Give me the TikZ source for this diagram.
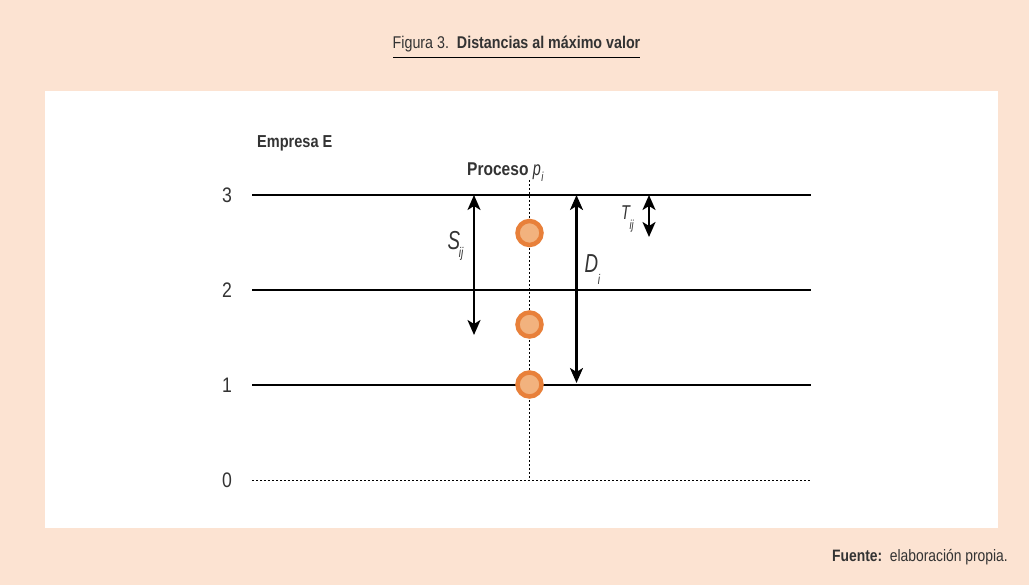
\documentclass[tikz,border=0pt]{standalone}
\usepackage{fontspec}
\setmainfont{Liberation Sans}[FakeStretch=0.84]
\usetikzlibrary{arrows.meta}
\definecolor{peach}{HTML}{FCE3D2}
\definecolor{txt}{HTML}{333333}
\definecolor{dotout}{HTML}{E8803A}
\definecolor{dotin}{HTML}{F2B27E}
\newcommand{\narrow}[1]{\scalebox{0.86}[1]{#1}}
\tikzset{
  lvl/.style={line width=1.6pt,black},
  lvlzero/.style={line width=0.9pt,black,dash pattern=on 2pt off 2pt},
  dist/.style={line width=2.4pt,black,{Stealth[length=15pt,width=13pt,inset=4pt]}-{Stealth[length=15pt,width=13pt,inset=4pt]}},
  num/.style={font=\fontsize{21}{23}\selectfont,text=txt,inner sep=0pt},
  lab/.style={font=\fontsize{26}{28}\selectfont\itshape,text=txt,inner sep=0pt,anchor=base west},
  pt/.style={circle,fill=dotin,draw=dotout,line width=4.5pt,minimum size=24pt,inner sep=0pt},
}
\begin{document}
\begin{tikzpicture}[x=1pt,y=-1pt]
\useasboundingbox (0,0) rectangle (1029,585);
\fill[peach] (0,0) rectangle (1029,585);
\fill[white] (45,91) rectangle (998,528);
% title
\node[text=txt,font=\fontsize{17}{19}\selectfont,inner sep=0pt,anchor=base] (title) at (516.5,49) {Figura 3.\ \ \textbf{Distancias al máximo valor}};
\draw[black,line width=0.8pt] (393,57) -- (640,57);
% levels
\coordinate (l3a) at (252,195); \coordinate (l3b) at (811,195);
\coordinate (l2a) at (252,290); \coordinate (l2b) at (811,290);
\coordinate (l1a) at (252,385); \coordinate (l1b) at (811,385);
\coordinate (l0a) at (252,480); \coordinate (l0b) at (811,480);
\draw[lvl] (l3a) -- (l3b);
\draw[lvl] (l2a) -- (l2b);
\draw[lvl] (l1a) -- (l1b);
\draw[lvlzero] (l0a) -- (l0b);
\node[num] (n3) at (227,195) {3};
\node[num] (n2) at (227,290) {2};
\node[num] (n1) at (227,385) {1};
\node[num] (n0) at (227,480) {0};
\node[text=txt,font=\fontsize{17.3}{19}\selectfont\bfseries,inner sep=0pt,anchor=base west] (emp) at (257,147.5) {Empresa E};
\node[text=txt,font=\fontsize{18.5}{20}\selectfont,inner sep=0pt,anchor=base west] (proc) at (467,176) {\textbf{Proceso} \narrow{\fontsize{20}{22}\selectfont\itshape p\kern0.5pt\raisebox{-5.5pt}{\fontsize{13}{14}\selectfont i}}};
% process line
\coordinate (ptop) at (529,180);
\coordinate (pbot) at (529,480);
\draw[black,line width=0.8pt,dash pattern=on 2pt off 2pt] (ptop) -- (pbot);
\node[pt] (c3) at (529.5,233) {};
\node[pt] (c2) at (529.5,324.5) {};
\node[pt] (c1) at (529.5,384.5) {};
% arrows
\coordinate (s1) at (474,195); \coordinate (s2) at (474,335);
\coordinate (d1) at (576.5,195); \coordinate (d2) at (576.5,383);
\coordinate (t1) at (649,195); \coordinate (t2) at (649,237);
\draw[dist] (s1) -- (s2);
\draw[dist] (d1) -- (d2);
\draw[dist] (t1) -- (t2);
\node[lab] (S) at (447.5,249.5) {\narrow{S\kern-1.5pt\raisebox{-8pt}{\fontsize{14}{15}\selectfont ij}}};
\node[lab] (D) at (584.5,273) {\narrow{D\kern-0.5pt\raisebox{-12pt}{\fontsize{14}{15}\selectfont i}}};
\node[lab,font=\fontsize{20}{22}\selectfont\itshape] (T) at (621,220) {\narrow{T\kern-0.5pt\raisebox{-10pt}{\fontsize{13}{14}\selectfont ij}}};
% footer
\node[text=txt,font=\fontsize{16.5}{18}\selectfont,inner sep=0pt,anchor=base east] (src) at (1008,561.5) {\textbf{Fuente:}\ \ elaboración propia.};
\end{tikzpicture}
\end{document}
